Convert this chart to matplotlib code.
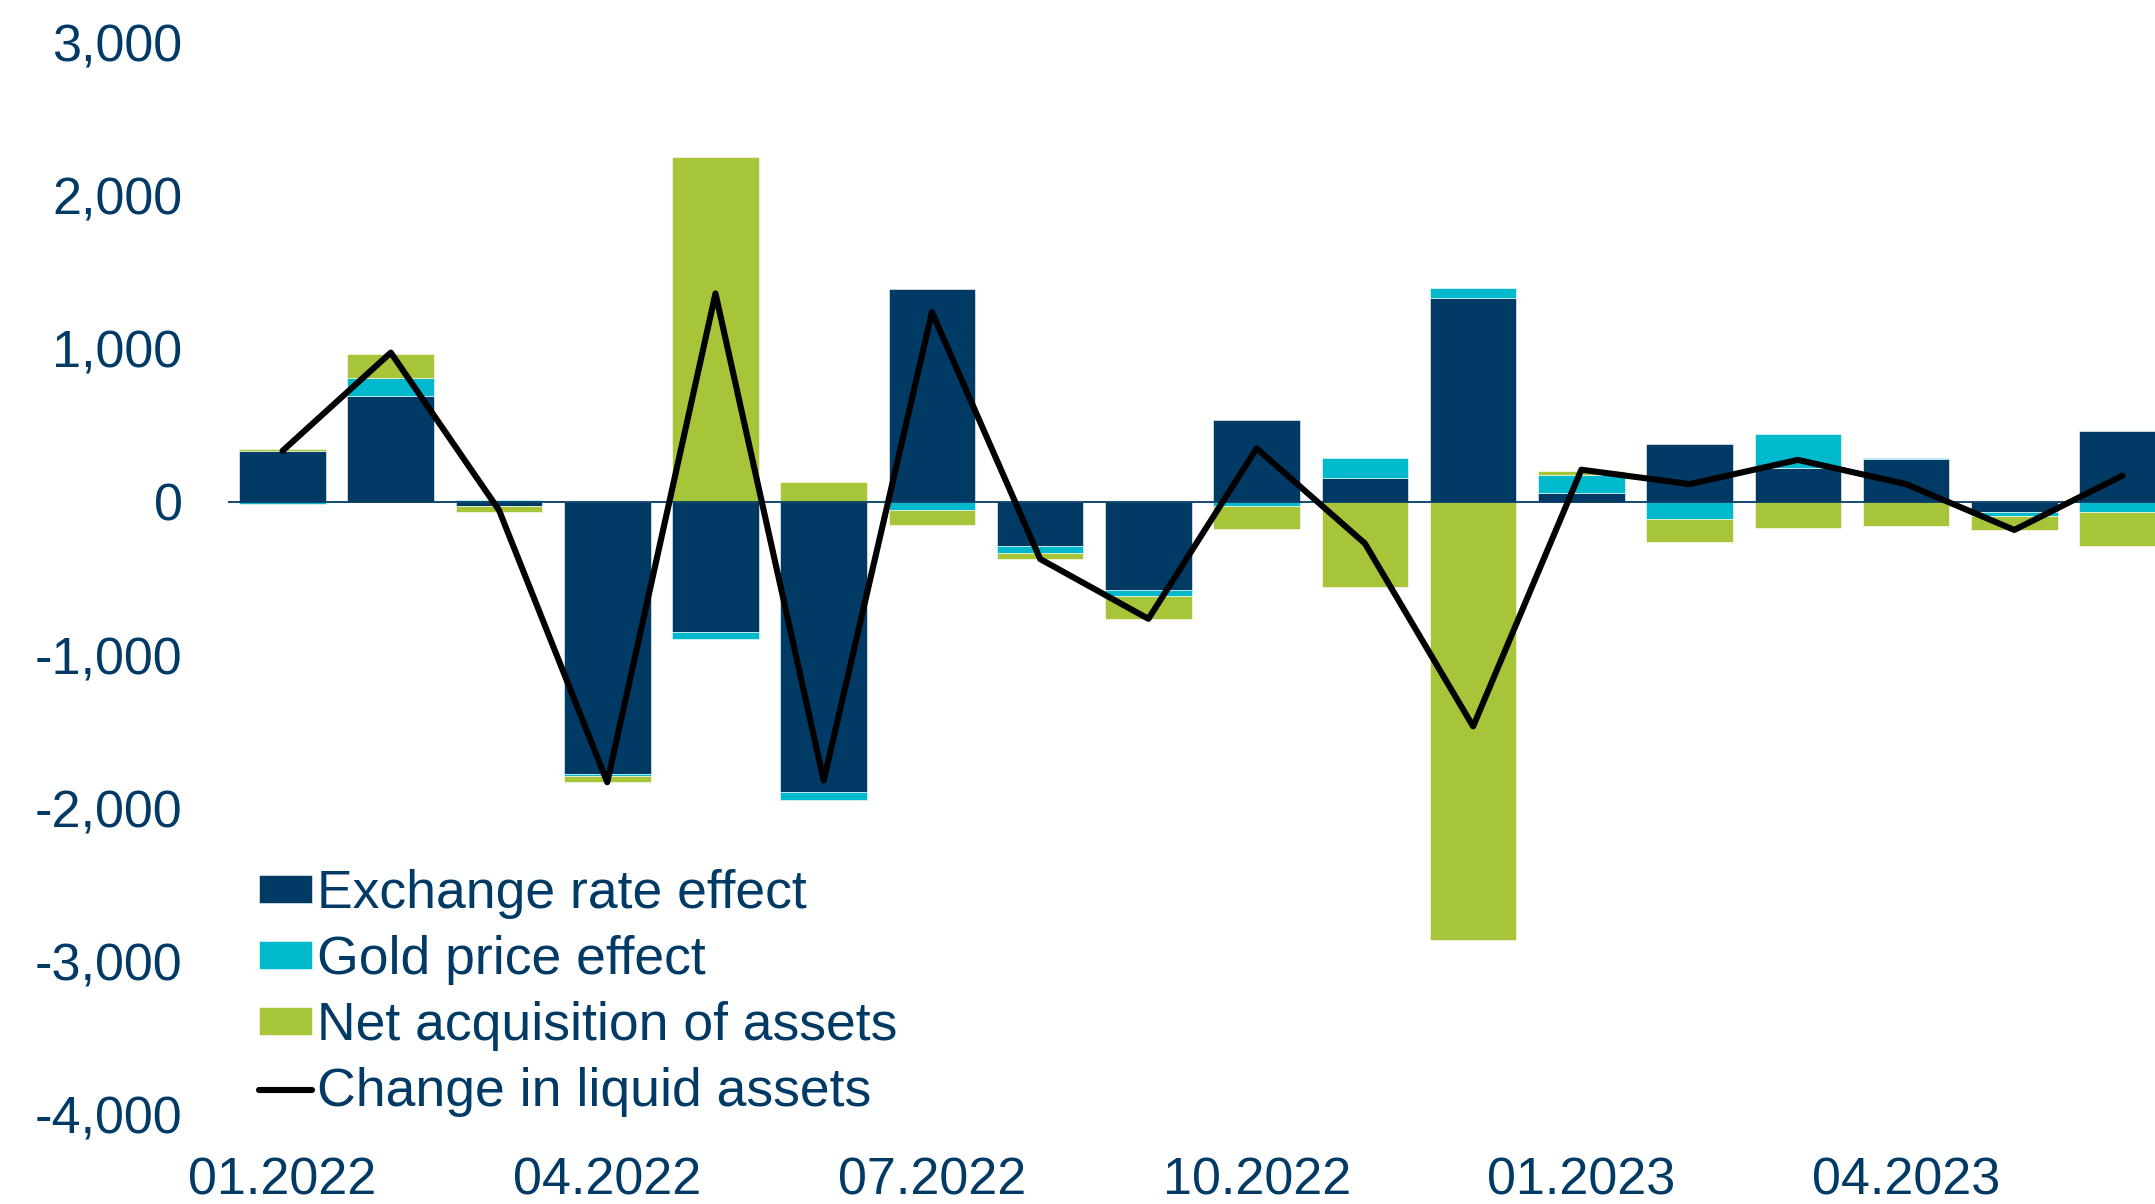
import numpy as np
import matplotlib.pyplot as plt

plt.rcParams['font.family'] = ['Liberation Sans', 'DejaVu Sans']

NAVY = '#023a66'
CYAN = '#00b9cd'
GREEN = '#a7c539'

months = ['01.2022', '02.2022', '03.2022', '04.2022', '05.2022', '06.2022',
          '07.2022', '08.2022', '09.2022', '10.2022', '11.2022', '12.2022',
          '01.2023', '02.2023', '03.2023', '04.2023', '05.2023', '06.2023']

exchange_rate = [335, 689, -25, -1776, -848, -1895, 1389, -285, -577, 533, 157, 1331,
                 58, 379, 218, 282, -67, 460]
gold_price = [-12, 122, 15, -14, -47, -47, -52, -50, -38, -29, 128, 67,
              117, -114, 225, 5, -23, -67]
net_acquisition = [10, 156, -40, -35, 2248, 131, -99, -38, -149, -151, -553, -2857,
                   29, -148, -169, -160, -93, -218]
liquid_change = [333, 974, -54, -1829, 1360, -1818, 1238, -373, -763, 349, -271, -1465,
                 210, 116, 274, 116, -183, 172]


def StackedBars(ax, x, series, colors, labels):
    pos = np.zeros(len(x))
    neg = np.zeros(len(x))
    for vals, c, lab in zip(series, colors, labels):
        vals = np.array(vals, dtype=float)
        bottom = np.where(vals >= 0, pos, neg)
        ax.bar(x, vals, bottom=bottom, width=0.8, color=c, label=lab,
               edgecolor='white', linewidth=0.4, zorder=2)
        pos = pos + np.where(vals >= 0, vals, 0)
        neg = neg + np.where(vals < 0, vals, 0)


fig = plt.figure(figsize=(21.55, 12.04), dpi=100)
ax = fig.add_axes([0.106, 0.074, 0.894, 0.891])

x = np.arange(len(months))
StackedBars(ax, x, [exchange_rate, gold_price, net_acquisition],
            [NAVY, CYAN, GREEN],
            ['Exchange rate effect', 'Gold price effect', 'Net acquisition of assets'])
ax.axhline(0, color=NAVY, lw=1.3, zorder=3)
ax.plot(x, liquid_change, color='black', lw=4.4, zorder=4,
        solid_joinstyle='round', solid_capstyle='round', label='Change in liquid assets')

ax.set_xlim(-0.5, 17.3)
ax.set_ylim(-4000, 3000)
ax.set_yticks(np.arange(-4000, 3001, 1000))
ax.set_yticklabels([f'{v:,}' for v in range(-4000, 3001, 1000)])
ax.set_xticks(x[::3])
ax.set_xticklabels(months[::3])
ax.tick_params(axis='both', length=0, labelsize=37.5, labelcolor=NAVY)
ax.tick_params(axis='y', pad=33)
ax.tick_params(axis='x', pad=30)
for s in ax.spines.values():
    s.set_visible(False)

handles, labels = ax.get_legend_handles_labels()
order = [1, 2, 3, 0]
leg = ax.legend([handles[i] for i in order], [labels[i] for i in order],
                loc='lower left', bbox_to_anchor=(0.016, -0.002), frameon=False,
                fontsize=38.5, labelcolor=NAVY, borderpad=0, borderaxespad=0,
                handlelength=0.98, handleheight=0.42, handletextpad=0.1,
                labelspacing=0.3)

fig.savefig('out.png', dpi=100)
